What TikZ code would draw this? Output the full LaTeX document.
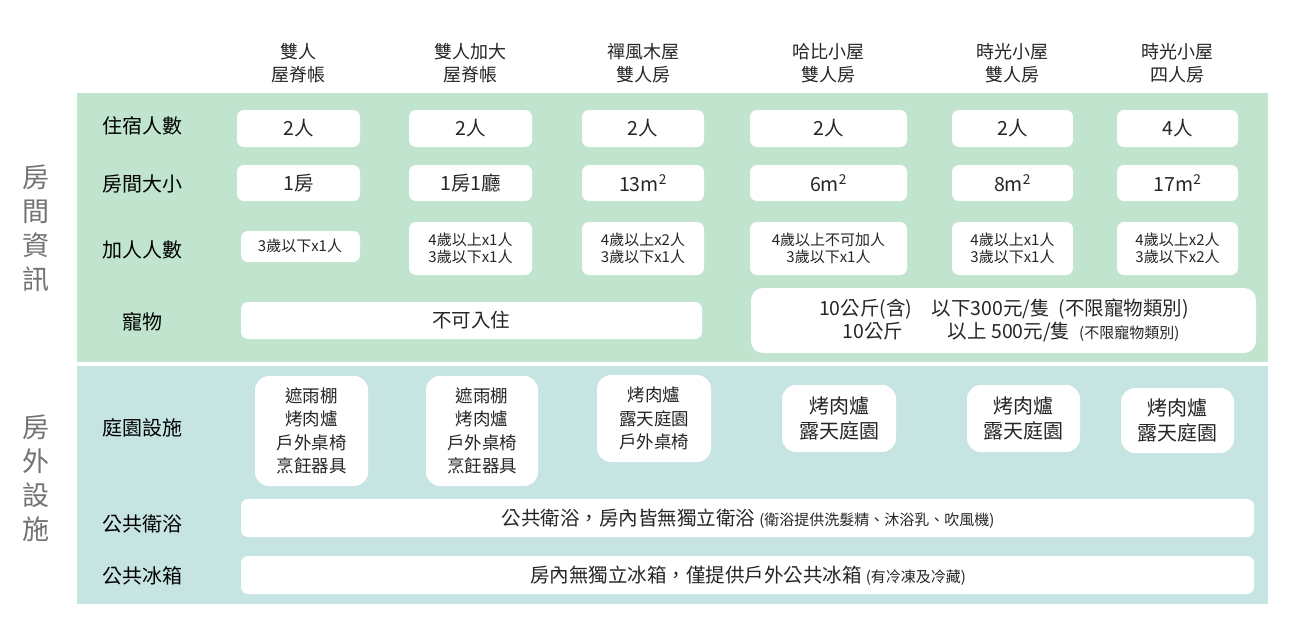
\documentclass[tikz,border=0pt]{standalone}
\usepackage{fontspec}
\setmainfont{Noto Sans CJK TC}
\begin{document}
\begin{tikzpicture}[x=1pt,y=-1pt,
  cell/.style={fill=white,rounded corners=7pt,draw=none},
  txt/.style={font=\fontsize{19.5}{23}\selectfont,align=center,text=black!85},
  sm/.style={font=\fontsize{15}{17}\selectfont,align=center,text=black!85},
  side/.style={font=\fontsize{27}{34}\selectfont,align=center,text=black!55}]
\useasboundingbox (0,0) rectangle (1295,640);
\fill[fill=white] (0,0) rectangle (1295,640);
\fill[fill={rgb,255:red,192;green,228;blue,206}] (77,93) rectangle (1268,362);
\fill[fill={rgb,255:red,197;green,228;blue,226}] (77,366) rectangle (1268,604);
% headers
\foreach \x/\t [count=\i] in {298/雙人\\屋脊帳,470/雙人加大\\屋脊帳,643/禪風木屋\\雙人房,828/哈比小屋\\雙人房,1012/時光小屋\\雙人房,1177/時光小屋\\四人房}
  \node[txt,font=\fontsize{18}{23}\selectfont] (h\i) at (\x,63) {\t};
% side labels
\node[side] (s1) at (36,228) {房\\間\\資\\訊};
\node[side] (s2) at (36,478) {房\\外\\設\\施};
% row labels
\foreach \y/\t [count=\i] in {126/住宿人數,184/房間大小,250/加人人數,322/寵物,428/庭園設施,524/公共衛浴,576/公共冰箱}
  \node[txt,text=black,font=\fontsize{20}{23}\selectfont] (r\i) at (142,\y) {\t};
% row1 & row2
\foreach \a/\b/\t [count=\i] in {237/360/2人,409/532/2人,582/704/2人,750/907/2人,952/1073/2人,1117/1238/4人}{
  \fill[cell] (\a,110) rectangle (\b,147);
  \node[txt] (p\i) at ({(\a+\b)/2},128) {\t};}
\foreach \a/\b/\t [count=\i] in {237/360/1房,409/532/1房1廳,582/704/13m\textsuperscript{2},750/907/6m\textsuperscript{2},952/1073/8m\textsuperscript{2},1117/1238/17m\textsuperscript{2}}{
  \fill[cell] (\a,165) rectangle (\b,201);
  \node[txt] (z\i) at ({(\a+\b)/2},183) {\t};}
% row3
\fill[cell] (241,231) rectangle (360,262);
\node[sm] (e1) at (300,246) {3歲以下x1人};
\foreach \a/\b/\t [count=\i from 2] in {409/532/4歲以上x1人\\3歲以下x1人,582/704/4歲以上x2人\\3歲以下x1人,750/907/4歲以上不可加人\\3歲以下x1人,952/1073/4歲以上x1人\\3歲以下x1人,1117/1238/4歲以上x2人\\3歲以下x2人}{
  \fill[cell] (\a,222) rectangle (\b,275);
  \node[sm] (e\i) at ({(\a+\b)/2},248) {\t};}
% pets
\fill[cell] (241,302) rectangle (702,339);
\node[txt] (pet1) at (471,320) {不可入住};
\fill[cell,rounded corners=12pt] (751,288) rectangle (1256,353);
\node[txt,align=left] (pet2) at (1004,320) {10公斤(含)\quad 以下300元/隻\ \ (不限寵物類別)\\\hspace*{1.2em}10公斤\hspace{2.3em}以上 500元/隻\ \ {\fontsize{15}{17}\selectfont(不限寵物類別)}};
% garden
\foreach \a/\b/\c/\d/\t [count=\i] in {255/368/376/486/遮雨棚\\烤肉爐\\戶外桌椅\\烹飪器具,426/538/376/486/遮雨棚\\烤肉爐\\戶外桌椅\\烹飪器具,597/711/375/462/烤肉爐\\露天庭園\\戶外桌椅}{
  \fill[cell,rounded corners=14pt] (\a,\c) rectangle (\b,\d);
  \node[sm,font=\fontsize{17.5}{23.5}\selectfont] (g\i) at ({(\a+\b)/2},{(\c+\d)/2}) {\t};}
\foreach \a/\b/\c/\d [count=\i from 4] in {782/896/385/452,967/1080/385/452,1121/1234/388/453}{
  \fill[cell,rounded corners=14pt] (\a,\c) rectangle (\b,\d);
  \node[txt,font=\fontsize{20}{25}\selectfont] (g\i) at ({(\a+\b)/2},{(\c+\d)/2}) {烤肉爐\\露天庭園};}
% bath, fridge
\fill[cell] (241,499) rectangle (1254,537);
\node[txt] (bath) at (748,519) {公共衛浴，房內皆無獨立衛浴 {\fontsize{15}{17}\selectfont(衛浴提供洗髮精、沐浴乳、吹風機)}};
\fill[cell] (241,556) rectangle (1254,594);
\node[txt] (fr) at (748,576) {房內無獨立冰箱，僅提供戶外公共冰箱 {\fontsize{15}{17}\selectfont(有冷凍及冷藏)}};
\end{tikzpicture}
\end{document}
